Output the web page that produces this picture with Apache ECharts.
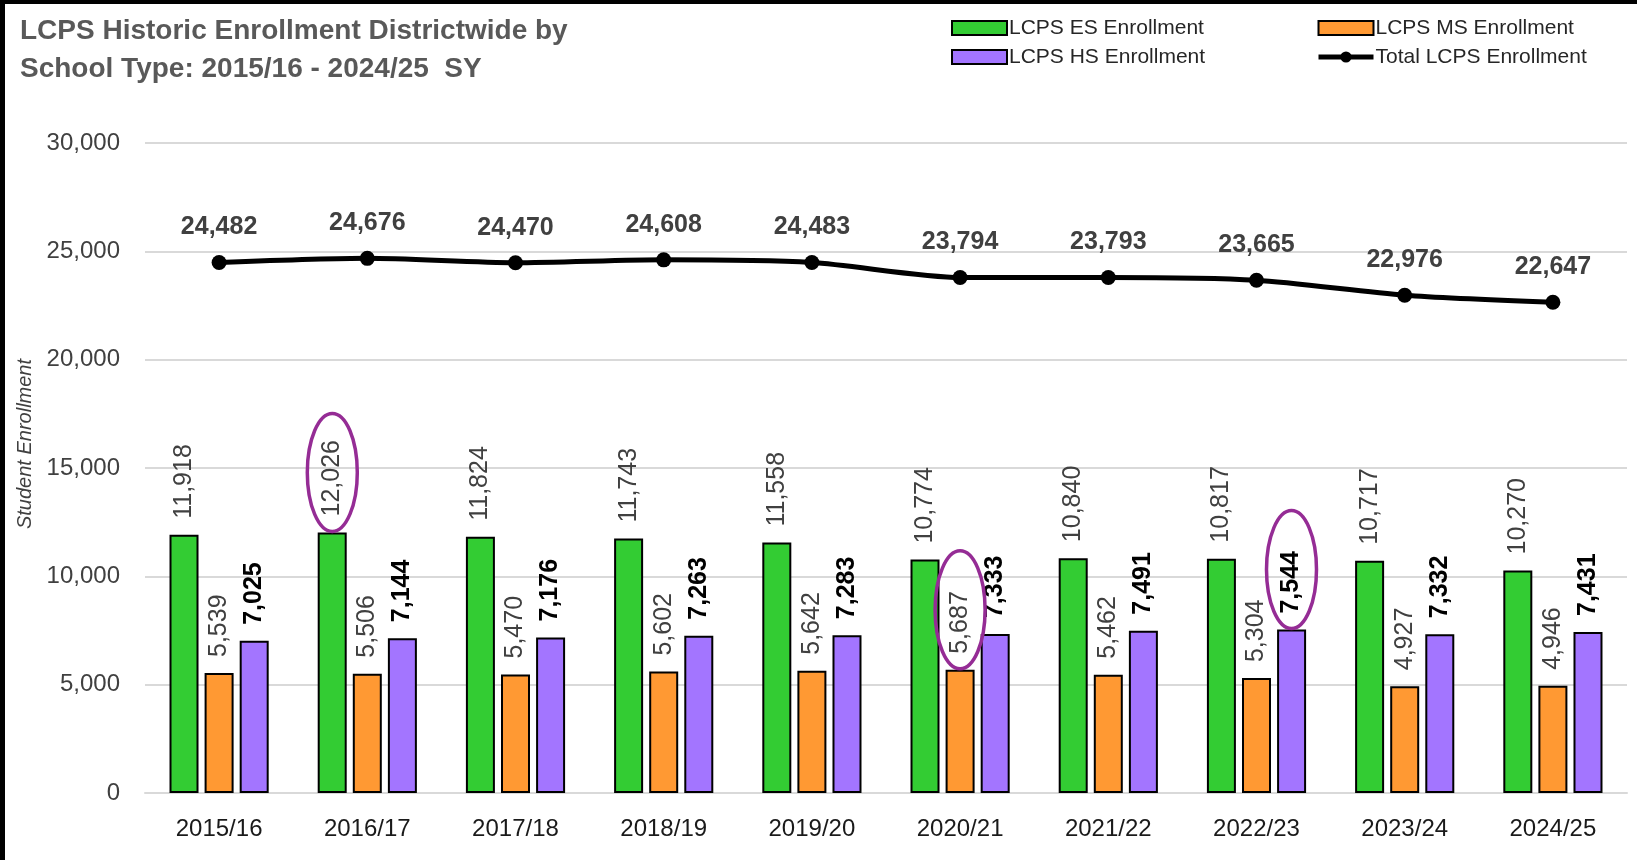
<!DOCTYPE html>
<html>
<head>
<meta charset="utf-8">
<script src="https://cdn.jsdelivr.net/npm/echarts@6/dist/echarts.min.js"></script>
<style>
  html, body { margin: 0; padding: 0; background: #000; width: 1637px; height: 860px; overflow: hidden; }
  #chart { position: absolute; left: 5px; top: 4px; width: 1632px; height: 856px; background: #fff; }
</style>
</head>
<body>
<div id="chart"></div>
<script>
const categories = ['2015/16','2016/17','2017/18','2018/19','2019/20','2020/21','2021/22','2022/23','2023/24','2024/25'];
const esEnrollment = [11918, 12026, 11824, 11743, 11558, 10774, 10840, 10817, 10717, 10270];
const msEnrollment = [5539, 5506, 5470, 5602, 5642, 5687, 5462, 5304, 4927, 4946];
const hsEnrollment = [7025, 7144, 7176, 7263, 7283, 7333, 7491, 7544, 7332, 7431];
const totalEnrollment = [24482, 24676, 24470, 24608, 24483, 23794, 23793, 23665, 22976, 22647];
const yTicks = [0, 5000, 10000, 15000, 20000, 25000, 30000];
// highlighted labels: [category index, series index (0=ES,1=MS,2=HS)]
const highlights = [[1, 0], [5, 1], [7, 2]];

const NARROW = "'Liberation Sans Narrow', 'Arial Narrow', 'Liberation Sans', sans-serif";
const WIDE = "'Liberation Sans', Arial, sans-serif";
const BAR_W = 29, BAR_PITCH = 35;
const seriesVals = [esEnrollment, msEnrollment, hsEnrollment];
const fmt = v => v.toLocaleString('en-US');

const chart = echarts.init(document.getElementById('chart'), null, { renderer: 'canvas' });

function barLabel(color, weight) {
  return {
    show: true, position: 'top', rotate: 90, align: 'left', verticalAlign: 'middle',
    distance: 16, fontFamily: NARROW, fontSize: 25, color: color, fontWeight: weight,
    formatter: p => fmt(p.value)
  };
}

const legendText = { fontFamily: NARROW, fontSize: 21, color: '#262626', lineHeight: 24, padding: [0, 0, 0, -3] };

const option = {
  animation: false,
  backgroundColor: '#fff',
  title: {
    text: 'LCPS Historic Enrollment Districtwide by\nSchool Type: 2015/16 - 2024/25  SY',
    left: 10, top: 3,
    textStyle: { fontFamily: NARROW, fontSize: 28, fontWeight: 'bold', color: '#595959', lineHeight: 38 }
  },
  legend: [
    {
      data: [{ name: 'LCPS ES Enrollment', icon: 'rect' }, { name: 'LCPS HS Enrollment', icon: 'rect' }],
      orient: 'vertical', left: 941, top: 7, itemWidth: 55, itemHeight: 14, itemGap: 5,
      textStyle: legendText
    },
    {
      data: [{ name: 'LCPS MS Enrollment', icon: 'rect' }, { name: 'Total LCPS Enrollment' }],
      orient: 'vertical', left: 1306, top: 7, itemWidth: 55, itemHeight: 14, itemGap: 5,
      lineStyle: { width: 5 },
      textStyle: legendText
    }
  ],
  grid: { left: 140, right: 10, top: 139, bottom: 67, containLabel: false },
  xAxis: {
    type: 'category', data: categories,
    axisLine: { lineStyle: { color: '#d9d9d9', width: 2 } },
    axisTick: { show: false },
    axisLabel: { fontFamily: NARROW, fontSize: 24, color: '#1a1a1a', margin: 24 }
  },
  yAxis: {
    type: 'value', min: yTicks[0], max: yTicks[yTicks.length - 1], interval: yTicks[1] - yTicks[0],
    name: 'Student Enrollment', nameLocation: 'middle', nameGap: 108,
    nameTextStyle: { fontFamily: NARROW, fontSize: 20, fontStyle: 'italic', color: '#404040', padding: [0, 0, 0, 48] },
    axisLine: { show: false }, axisTick: { show: false },
    axisLabel: { fontFamily: WIDE, fontSize: 24, color: '#404040', margin: 25, formatter: v => fmt(v) },
    splitLine: { lineStyle: { color: '#d9d9d9', width: 2 } }
  },
  series: [
    {
      name: 'LCPS ES Enrollment', type: 'bar', data: esEnrollment, barWidth: BAR_W, barGap: '21%',
      itemStyle: { color: '#33CC33', borderColor: '#000', borderWidth: 2 },
      label: barLabel('#404040', 'normal')
    },
    {
      name: 'LCPS MS Enrollment', type: 'bar', data: msEnrollment, barWidth: BAR_W, barGap: '21%',
      itemStyle: { color: '#FF9933', borderColor: '#000', borderWidth: 2 },
      label: barLabel('#404040', 'normal')
    },
    {
      name: 'LCPS HS Enrollment', type: 'bar', data: hsEnrollment, barWidth: BAR_W, barGap: '21%',
      itemStyle: { color: '#A375FF', borderColor: '#000', borderWidth: 2 },
      label: barLabel('#000', 'bold')
    },
    {
      name: 'Total LCPS Enrollment', type: 'line', data: totalEnrollment, smooth: 0.25,
      symbol: 'circle', symbolSize: 15,
      lineStyle: { color: '#000', width: 5 },
      itemStyle: { color: '#000' },
      label: { show: true, position: 'top', distance: 15, fontFamily: NARROW, fontSize: 25, fontWeight: 'bold', color: '#404040', formatter: p => fmt(p.value) },
      z: 5
    },
    {
      name: 'highlight', type: 'custom', silent: true, z: 10,
      data: highlights.map(h => [h[0], seriesVals[h[1]][h[0]], h[1]]),
      encode: { x: 0, y: 1 },
      renderItem: function (params, api) {
        const pt = api.coord([api.value(0), api.value(1)]);
        const cx = pt[0] + (api.value(2) - 1) * BAR_PITCH;
        const ry = 59, rx = 25;
        return {
          type: 'ellipse',
          shape: { cx: cx, cy: pt[1] - ry - 1, rx: rx, ry: ry },
          style: { fill: null, stroke: '#952C95', lineWidth: 3.5 }
        };
      }
    }
  ]
};
chart.setOption(option);
</script>
</body>
</html>
